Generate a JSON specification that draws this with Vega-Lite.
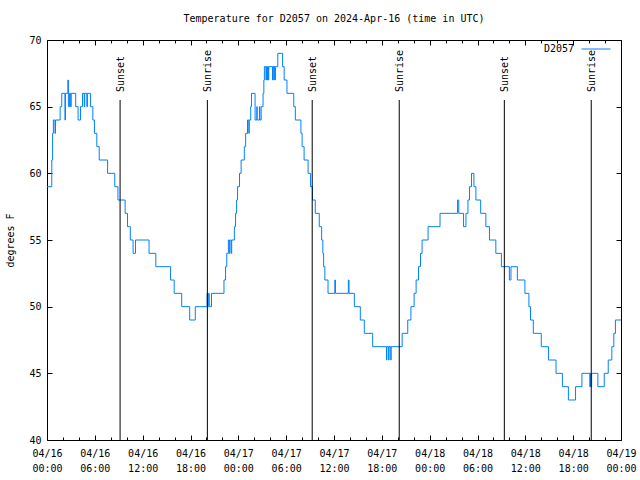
{
  "$schema": "https://vega.github.io/schema/vega-lite/v6.json",
  "width": 574,
  "height": 400,
  "autosize": {"type": "none"},
  "padding": {"left": 47, "top": 40, "right": 19, "bottom": 40},
  "background": "white",
  "title": {"text": "Temperature for D2057 on 2024-Apr-16 (time in UTC)", "anchor": "middle", "frame": "group", "font": "DejaVu Sans Mono", "fontSize": 10, "fontWeight": "normal", "color": "black", "baseline": "middle", "offset": 5},
  "config": {
    "view": {"stroke": "black", "strokeWidth": 1},
    "axis": {"labelFont": "DejaVu Sans Mono", "labelFontSize": 10, "labelColor": "black", "titleFont": "DejaVu Sans Mono", "titleFontSize": 10, "titleFontWeight": "normal", "titleColor": "black", "tickColor": "black", "tickWidth": 1, "domain": false, "grid": false}
  },
  "datasets": {
    "temps": [
      {"time": "2024-04-16T00:00:00Z", "temp": 59},
      {"time": "2024-04-16T00:36:00Z", "temp": 61},
      {"time": "2024-04-16T00:42:00Z", "temp": 63},
      {"time": "2024-04-16T00:48:00Z", "temp": 64},
      {"time": "2024-04-16T01:00:00Z", "temp": 63},
      {"time": "2024-04-16T01:04:00Z", "temp": 64},
      {"time": "2024-04-16T01:39:00Z", "temp": 65},
      {"time": "2024-04-16T01:51:00Z", "temp": 66},
      {"time": "2024-04-16T02:15:00Z", "temp": 64},
      {"time": "2024-04-16T02:19:00Z", "temp": 66},
      {"time": "2024-04-16T02:37:00Z", "temp": 67},
      {"time": "2024-04-16T02:41:00Z", "temp": 65},
      {"time": "2024-04-16T02:50:00Z", "temp": 66},
      {"time": "2024-04-16T02:58:00Z", "temp": 65},
      {"time": "2024-04-16T03:02:00Z", "temp": 66},
      {"time": "2024-04-16T03:36:00Z", "temp": 65},
      {"time": "2024-04-16T03:54:00Z", "temp": 64},
      {"time": "2024-04-16T04:12:00Z", "temp": 65},
      {"time": "2024-04-16T04:27:00Z", "temp": 66},
      {"time": "2024-04-16T04:40:00Z", "temp": 65},
      {"time": "2024-04-16T04:44:00Z", "temp": 66},
      {"time": "2024-04-16T05:00:00Z", "temp": 65},
      {"time": "2024-04-16T05:04:00Z", "temp": 66},
      {"time": "2024-04-16T05:27:00Z", "temp": 65},
      {"time": "2024-04-16T05:45:00Z", "temp": 64},
      {"time": "2024-04-16T05:57:00Z", "temp": 63},
      {"time": "2024-04-16T06:15:00Z", "temp": 62},
      {"time": "2024-04-16T06:33:00Z", "temp": 61},
      {"time": "2024-04-16T07:36:00Z", "temp": 60},
      {"time": "2024-04-16T08:30:00Z", "temp": 59},
      {"time": "2024-04-16T08:54:00Z", "temp": 58},
      {"time": "2024-04-16T09:48:00Z", "temp": 57},
      {"time": "2024-04-16T10:06:00Z", "temp": 56},
      {"time": "2024-04-16T10:27:00Z", "temp": 55},
      {"time": "2024-04-16T10:48:00Z", "temp": 54},
      {"time": "2024-04-16T11:06:00Z", "temp": 55},
      {"time": "2024-04-16T12:48:00Z", "temp": 54},
      {"time": "2024-04-16T13:39:00Z", "temp": 53},
      {"time": "2024-04-16T15:30:00Z", "temp": 52},
      {"time": "2024-04-16T15:57:00Z", "temp": 51},
      {"time": "2024-04-16T16:54:00Z", "temp": 50},
      {"time": "2024-04-16T17:54:00Z", "temp": 49},
      {"time": "2024-04-16T18:36:00Z", "temp": 50},
      {"time": "2024-04-16T20:05:00Z", "temp": 51},
      {"time": "2024-04-16T20:09:00Z", "temp": 50},
      {"time": "2024-04-16T20:17:00Z", "temp": 51},
      {"time": "2024-04-16T20:21:00Z", "temp": 50},
      {"time": "2024-04-16T20:38:00Z", "temp": 51},
      {"time": "2024-04-16T22:12:00Z", "temp": 52},
      {"time": "2024-04-16T22:24:00Z", "temp": 53},
      {"time": "2024-04-16T22:33:00Z", "temp": 54},
      {"time": "2024-04-16T22:45:00Z", "temp": 55},
      {"time": "2024-04-16T22:52:00Z", "temp": 54},
      {"time": "2024-04-16T22:56:00Z", "temp": 55},
      {"time": "2024-04-16T23:06:00Z", "temp": 54},
      {"time": "2024-04-16T23:10:00Z", "temp": 55},
      {"time": "2024-04-16T23:30:00Z", "temp": 56},
      {"time": "2024-04-16T23:39:00Z", "temp": 57},
      {"time": "2024-04-16T23:47:00Z", "temp": 58},
      {"time": "2024-04-16T23:54:00Z", "temp": 59},
      {"time": "2024-04-17T00:09:00Z", "temp": 60},
      {"time": "2024-04-17T00:21:00Z", "temp": 61},
      {"time": "2024-04-17T00:45:00Z", "temp": 62},
      {"time": "2024-04-17T00:55:00Z", "temp": 63},
      {"time": "2024-04-17T01:09:00Z", "temp": 64},
      {"time": "2024-04-17T01:19:00Z", "temp": 63},
      {"time": "2024-04-17T01:22:00Z", "temp": 64},
      {"time": "2024-04-17T01:33:00Z", "temp": 65},
      {"time": "2024-04-17T01:39:00Z", "temp": 66},
      {"time": "2024-04-17T02:06:00Z", "temp": 64},
      {"time": "2024-04-17T02:19:00Z", "temp": 65},
      {"time": "2024-04-17T02:22:00Z", "temp": 64},
      {"time": "2024-04-17T02:39:00Z", "temp": 65},
      {"time": "2024-04-17T02:42:00Z", "temp": 64},
      {"time": "2024-04-17T02:52:00Z", "temp": 65},
      {"time": "2024-04-17T03:06:00Z", "temp": 66},
      {"time": "2024-04-17T03:12:00Z", "temp": 67},
      {"time": "2024-04-17T03:16:00Z", "temp": 68},
      {"time": "2024-04-17T03:28:00Z", "temp": 67},
      {"time": "2024-04-17T03:31:00Z", "temp": 68},
      {"time": "2024-04-17T03:36:00Z", "temp": 67},
      {"time": "2024-04-17T03:39:00Z", "temp": 68},
      {"time": "2024-04-17T03:46:00Z", "temp": 67},
      {"time": "2024-04-17T03:49:00Z", "temp": 68},
      {"time": "2024-04-17T04:17:00Z", "temp": 67},
      {"time": "2024-04-17T04:20:00Z", "temp": 68},
      {"time": "2024-04-17T04:27:00Z", "temp": 67},
      {"time": "2024-04-17T04:30:00Z", "temp": 68},
      {"time": "2024-04-17T04:36:00Z", "temp": 67},
      {"time": "2024-04-17T04:39:00Z", "temp": 68},
      {"time": "2024-04-17T04:57:00Z", "temp": 69},
      {"time": "2024-04-17T05:33:00Z", "temp": 68},
      {"time": "2024-04-17T05:45:00Z", "temp": 67},
      {"time": "2024-04-17T06:06:00Z", "temp": 66},
      {"time": "2024-04-17T06:57:00Z", "temp": 65},
      {"time": "2024-04-17T07:09:00Z", "temp": 64},
      {"time": "2024-04-17T07:51:00Z", "temp": 63},
      {"time": "2024-04-17T08:00:00Z", "temp": 62},
      {"time": "2024-04-17T08:15:00Z", "temp": 61},
      {"time": "2024-04-17T08:45:00Z", "temp": 60},
      {"time": "2024-04-17T09:03:00Z", "temp": 59},
      {"time": "2024-04-17T09:18:00Z", "temp": 58},
      {"time": "2024-04-17T09:39:00Z", "temp": 57},
      {"time": "2024-04-17T10:09:00Z", "temp": 56},
      {"time": "2024-04-17T10:27:00Z", "temp": 55},
      {"time": "2024-04-17T10:36:00Z", "temp": 54},
      {"time": "2024-04-17T10:42:00Z", "temp": 53},
      {"time": "2024-04-17T10:51:00Z", "temp": 52},
      {"time": "2024-04-17T11:15:00Z", "temp": 51},
      {"time": "2024-04-17T12:06:00Z", "temp": 52},
      {"time": "2024-04-17T12:11:00Z", "temp": 51},
      {"time": "2024-04-17T13:48:00Z", "temp": 52},
      {"time": "2024-04-17T13:53:00Z", "temp": 51},
      {"time": "2024-04-17T14:33:00Z", "temp": 50},
      {"time": "2024-04-17T15:18:00Z", "temp": 49},
      {"time": "2024-04-17T15:48:00Z", "temp": 48},
      {"time": "2024-04-17T16:51:00Z", "temp": 47},
      {"time": "2024-04-17T18:35:00Z", "temp": 46},
      {"time": "2024-04-17T18:38:00Z", "temp": 47},
      {"time": "2024-04-17T18:51:00Z", "temp": 46},
      {"time": "2024-04-17T18:54:00Z", "temp": 47},
      {"time": "2024-04-17T19:07:00Z", "temp": 46},
      {"time": "2024-04-17T19:10:00Z", "temp": 47},
      {"time": "2024-04-17T20:33:00Z", "temp": 48},
      {"time": "2024-04-17T21:15:00Z", "temp": 49},
      {"time": "2024-04-17T21:39:00Z", "temp": 50},
      {"time": "2024-04-17T22:03:00Z", "temp": 51},
      {"time": "2024-04-17T22:18:00Z", "temp": 52},
      {"time": "2024-04-17T22:36:00Z", "temp": 53},
      {"time": "2024-04-17T22:51:00Z", "temp": 54},
      {"time": "2024-04-17T23:03:00Z", "temp": 55},
      {"time": "2024-04-17T23:48:00Z", "temp": 56},
      {"time": "2024-04-18T01:18:00Z", "temp": 57},
      {"time": "2024-04-18T03:30:00Z", "temp": 58},
      {"time": "2024-04-18T03:39:00Z", "temp": 57},
      {"time": "2024-04-18T04:15:00Z", "temp": 56},
      {"time": "2024-04-18T04:33:00Z", "temp": 57},
      {"time": "2024-04-18T04:48:00Z", "temp": 58},
      {"time": "2024-04-18T05:00:00Z", "temp": 59},
      {"time": "2024-04-18T05:15:00Z", "temp": 60},
      {"time": "2024-04-18T05:33:00Z", "temp": 59},
      {"time": "2024-04-18T05:48:00Z", "temp": 58},
      {"time": "2024-04-18T06:24:00Z", "temp": 57},
      {"time": "2024-04-18T07:03:00Z", "temp": 56},
      {"time": "2024-04-18T07:30:00Z", "temp": 55},
      {"time": "2024-04-18T08:18:00Z", "temp": 54},
      {"time": "2024-04-18T09:00:00Z", "temp": 53},
      {"time": "2024-04-18T10:00:00Z", "temp": 52},
      {"time": "2024-04-18T10:12:00Z", "temp": 53},
      {"time": "2024-04-18T11:00:00Z", "temp": 52},
      {"time": "2024-04-18T11:57:00Z", "temp": 51},
      {"time": "2024-04-18T12:27:00Z", "temp": 50},
      {"time": "2024-04-18T12:39:00Z", "temp": 49},
      {"time": "2024-04-18T13:00:00Z", "temp": 48},
      {"time": "2024-04-18T14:00:00Z", "temp": 47},
      {"time": "2024-04-18T14:54:00Z", "temp": 46},
      {"time": "2024-04-18T15:51:00Z", "temp": 45},
      {"time": "2024-04-18T16:39:00Z", "temp": 44},
      {"time": "2024-04-18T17:24:00Z", "temp": 43},
      {"time": "2024-04-18T18:18:00Z", "temp": 44},
      {"time": "2024-04-18T19:06:00Z", "temp": 45},
      {"time": "2024-04-18T20:05:00Z", "temp": 44},
      {"time": "2024-04-18T20:10:00Z", "temp": 45},
      {"time": "2024-04-18T20:14:00Z", "temp": 44},
      {"time": "2024-04-18T20:19:00Z", "temp": 45},
      {"time": "2024-04-18T21:06:00Z", "temp": 44},
      {"time": "2024-04-18T21:54:00Z", "temp": 45},
      {"time": "2024-04-18T22:24:00Z", "temp": 46},
      {"time": "2024-04-18T22:51:00Z", "temp": 47},
      {"time": "2024-04-18T23:06:00Z", "temp": 48},
      {"time": "2024-04-18T23:18:00Z", "temp": 49},
      {"time": "2024-04-19T00:00:00Z", "temp": 49}
    ],
    "sun": [
      {"time": "2024-04-16T09:10:00Z", "event": "Sunset"},
      {"time": "2024-04-16T20:07:00Z", "event": "Sunrise"},
      {"time": "2024-04-17T09:16:00Z", "event": "Sunset"},
      {"time": "2024-04-17T20:11:00Z", "event": "Sunrise"},
      {"time": "2024-04-18T09:22:00Z", "event": "Sunset"},
      {"time": "2024-04-18T20:16:00Z", "event": "Sunrise"}
    ]
  },
  "layer": [
    {
      "data": {"name": "temps"},
      "mark": {"type": "line", "interpolate": "step-after", "strokeWidth": 1},
      "encoding": {
        "x": {
          "field": "time", "type": "temporal",
          "scale": {"type": "utc", "domain": [1713225600000, 1713484800000]},
          "axis": {
            "orient": "bottom", "title": null, "labelAngle": 0,
            "values": [1713225600000, 1713232800000, 1713240000000, 1713247200000, 1713254400000, 1713261600000, 1713268800000, 1713276000000, 1713283200000, 1713290400000, 1713297600000, 1713304800000, 1713312000000, 1713319200000, 1713326400000, 1713333600000, 1713340800000, 1713348000000, 1713355200000, 1713362400000, 1713369600000, 1713376800000, 1713384000000, 1713391200000, 1713398400000, 1713405600000, 1713412800000, 1713420000000, 1713427200000, 1713434400000, 1713441600000, 1713448800000, 1713456000000, 1713463200000, 1713470400000, 1713477600000, 1713484800000],
            "labelExpr": "utchours(datum.value) % 6 == 0 ? [utcFormat(datum.value, '%m/%d'), utcFormat(datum.value, '%H:%M')] : ''",
            "tickSize": {"condition": {"test": "utchours(datum.value) % 6 == 0", "value": -5}, "value": -3},
            "labelPadding": 13, "labelLineHeight": 15, "labelBaseline": "top", "labelFlush": false, "labelOverlap": false
          }
        },
        "y": {
          "field": "temp", "type": "quantitative",
          "scale": {"domain": [40, 70], "nice": false, "zero": false},
          "axis": {"orient": "left", "values": [40, 45, 50, 55, 60, 65, 70], "tickSize": -5, "labelPadding": 11, "labelFlush": false, "title": "degrees F", "titleAngle": 270, "titleX": -37, "titleY": 200, "titleAlign": "center", "titleBaseline": "middle"}
        },
        "color": {
          "datum": "D2057",
          "scale": {"range": ["#0080ff"]},
          "legend": {"orient": "none", "legendX": 534, "legendY": -6, "title": null, "symbolType": "stroke", "symbolSize": 841, "symbolStrokeWidth": 1, "labelFont": "DejaVu Sans Mono", "labelFontSize": 10, "labelColor": "black", "labelAlign": "right", "labelOffset": -37, "padding": 0}
        }
      }
    },
    {
      "data": {"name": "sun"},
      "mark": {"type": "rule", "color": "black", "strokeWidth": 1},
      "encoding": {
        "x": {
          "field": "time", "type": "temporal",
          "axis": {
            "orient": "top", "title": null, "labels": false,
            "values": [1713225600000, 1713232800000, 1713240000000, 1713247200000, 1713254400000, 1713261600000, 1713268800000, 1713276000000, 1713283200000, 1713290400000, 1713297600000, 1713304800000, 1713312000000, 1713319200000, 1713326400000, 1713333600000, 1713340800000, 1713348000000, 1713355200000, 1713362400000, 1713369600000, 1713376800000, 1713384000000, 1713391200000, 1713398400000, 1713405600000, 1713412800000, 1713420000000, 1713427200000, 1713434400000, 1713441600000, 1713448800000, 1713456000000, 1713463200000, 1713470400000, 1713477600000, 1713484800000],
            "tickSize": {"condition": {"test": "utchours(datum.value) % 6 == 0", "value": -5}, "value": -3}
          }
        },
        "y": {"datum": 65.5, "type": "quantitative", "axis": {"orient": "right", "title": null, "labels": false, "values": [40, 45, 50, 55, 60, 65, 70], "tickSize": -5}},
        "y2": {"datum": 40}
      }
    },
    {
      "data": {"name": "sun"},
      "mark": {"type": "text", "angle": 270, "align": "left", "baseline": "middle", "dy": 1, "font": "DejaVu Sans Mono", "fontSize": 10, "color": "black"},
      "encoding": {
        "x": {"field": "time", "type": "temporal", "axis": null},
        "y": {"datum": 66.1, "type": "quantitative", "axis": null},
        "text": {"field": "event"}
      }
    }
  ],
  "resolve": {"axis": {"x": "independent", "y": "independent"}}
}
